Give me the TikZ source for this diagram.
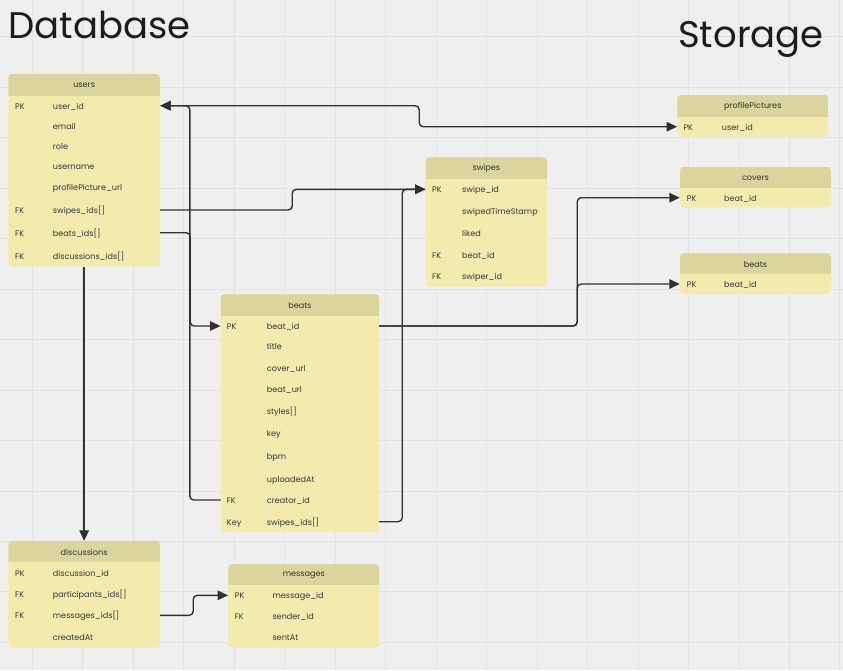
\documentclass[tikz,border=0pt]{standalone}
\usepackage{fontspec}
\setmainfont{Poppins}
\usetikzlibrary{arrows.meta,fit}
\definecolor{bgc}{HTML}{EFEFEF}
\definecolor{gridc}{HTML}{E3E3E3}
\definecolor{bodyc}{HTML}{F1ECAE}
\definecolor{headc}{HTML}{DAD49D}
\definecolor{linec}{HTML}{303030}
\definecolor{txtc}{HTML}{363636}
\definecolor{titc}{HTML}{1C1C1C}
\tikzset{
  tbody/.style={fill=bodyc, rounded corners=4pt, inner sep=0pt},
  htext/.style={inner sep=0pt, yshift=-0.8pt, text=txtc, font=\fontsize{8.1}{10}\selectfont},
  ktext/.style={inner sep=0pt, anchor=mid west, yshift=-0.8pt, text=txtc, font=\fontsize{8.1}{10}\selectfont},
  rowbox/.style={inner sep=0pt},
  conn/.style={draw=linec, line width=1.4pt, rounded corners=4pt, -{Triangle[length=10.5pt,width=9.5pt]}},
  conn2/.style={draw=linec, line width=1.4pt, rounded corners=4pt, {Triangle[length=10.5pt,width=9.5pt]}-{Triangle[length=10.5pt,width=9.5pt]}},
  titletext/.style={inner sep=0pt, anchor=base west, text=titc, font=\fontsize{37}{44}\selectfont},
}
% #1 name, #2 x1, #3 y1, #4 x2, #5 y2, #6 header bottom, #7 title
\newcommand\dbtab[7]{%
  \node[tbody, fit={(#2,#3)(#4,#5)}] (#1) {};
  \begin{scope}
    \clip[rounded corners=4pt] (#2,#3) rectangle (#4,#5);
    \fill[headc] (#2,#3) rectangle (#4,#6);
  \end{scope}
  \node[htext] (#1-h) at ({(#2+#4)/2},{(#3+#6)/2}) {#7};
}
% #1 name, #2 x1, #3 x2, #4 y, #5 key x, #6 field x, #7 key, #8 field
\newcommand\dbrow[8]{%
  \node[rowbox, fit={(#2,#4-9)(#3,#4+9)}] (#1) {};
  \node[ktext] (#1-k) at (#5,#4) {#7};
  \node[ktext] (#1-f) at (#6,#4) {#8};
}
\begin{document}
\begin{tikzpicture}[x=1pt,y=-1pt]
\useasboundingbox (0,0) rectangle (843,670);
\fill[bgc] (0,0) rectangle (843,670);
\foreach \i in {0,...,16} {\draw[gridc, line width=1pt] ({32.3+\i*50.48},0) -- ({32.3+\i*50.48},670);}
\foreach \i in {0,...,12} {\draw[gridc, line width=1pt] (0,{36.7+\i*50.48}) -- (843,{36.7+\i*50.48});}

\node[titletext] (tdb) at (8.5,38.3) {Database};
\node[titletext] (tst) at (678,47.3) {Storage};

% users
\dbtab{users}{8.3}{74}{160}{266.7}{95.7}{users}
\dbrow{u-uid}{8.3}{160}{105.7}{15}{52.7}{PK}{user\_id}
\dbrow{u-email}{8.3}{160}{125.7}{15}{52.7}{}{email}
\dbrow{u-role}{8.3}{160}{146}{15}{52.7}{}{role}
\dbrow{u-uname}{8.3}{160}{166.3}{15}{52.7}{}{username}
\dbrow{u-pp}{8.3}{160}{187.3}{15}{52.7}{}{profilePicture\_url}
\dbrow{u-sw}{8.3}{160}{210}{15}{52.7}{FK}{swipes\_ids[]}
\dbrow{u-bt}{8.3}{160}{232.7}{15}{52.7}{FK}{beats\_ids[]}
\dbrow{u-disc}{8.3}{160}{255.7}{15}{52.7}{FK}{discussions\_ids[]}

% swipes
\dbtab{swipes}{425.7}{157.3}{547}{286.7}{179}{swipes}
\dbrow{sw-pk}{425.7}{547}{189.3}{432}{462}{PK}{swipe\_id}
\dbrow{sw-ts}{425.7}{547}{211}{432}{462}{}{swipedTimeStamp}
\dbrow{sw-liked}{425.7}{547}{232.7}{432}{462}{}{liked}
\dbrow{sw-beat}{425.7}{547}{254.7}{432}{462}{FK}{beat\_id}
\dbrow{sw-swiper}{425.7}{547}{276}{432}{462}{FK}{swiper\_id}

% storage
\dbtab{pp}{677.3}{95}{828.3}{136.7}{116.7}{profilePictures}
\dbrow{pp-pk}{677.3}{828.3}{126.7}{683.3}{721.7}{PK}{user\_id}
\dbtab{cov}{680}{166.7}{831}{207.3}{188.3}{covers}
\dbrow{cov-pk}{680}{831}{197.7}{686.7}{724}{PK}{beat\_id}
\dbtab{sb}{680}{253.3}{831}{294}{274}{beats}
\dbrow{sb-pk}{680}{831}{284}{686.7}{724}{PK}{beat\_id}

% beats
\dbtab{beats}{220.7}{294.3}{379}{532.3}{315.7}{beats}
\dbrow{b-pk}{220.7}{379}{326}{226.7}{266.7}{PK}{beat\_id}
\dbrow{b-title}{220.7}{379}{346.3}{226.7}{266.7}{}{title}
\dbrow{b-cover}{220.7}{379}{367.7}{226.7}{266.7}{}{cover\_url}
\dbrow{b-url}{220.7}{379}{389.3}{226.7}{266.7}{}{beat\_url}
\dbrow{b-styles}{220.7}{379}{411}{226.7}{266.7}{}{styles[]}
\dbrow{b-key}{220.7}{379}{433.3}{226.7}{266.7}{}{key}
\dbrow{b-bpm}{220.7}{379}{456}{226.7}{266.7}{}{bpm}
\dbrow{b-up}{220.7}{379}{478.7}{226.7}{266.7}{}{uploadedAt}
\dbrow{b-cr}{220.7}{379}{500}{226.7}{266.7}{FK}{creator\_id}
\dbrow{b-sw}{220.7}{379}{521.7}{226.7}{266.7}{Key}{swipes\_ids[]}

% discussions
\dbtab{disc}{8.3}{541}{160}{647.7}{562.3}{discussions}
\dbrow{d-pk}{8.3}{160}{572.7}{15}{52.7}{PK}{discussion\_id}
\dbrow{d-part}{8.3}{160}{594}{15}{52.7}{FK}{participants\_ids[]}
\dbrow{d-msg}{8.3}{160}{615.3}{15}{52.7}{FK}{messages\_ids[]}
\dbrow{d-cr}{8.3}{160}{636.7}{15}{52.7}{}{createdAt}

% messages
\dbtab{msg}{228.3}{564}{379.3}{647.7}{585}{messages}
\dbrow{m-pk}{228.3}{379.3}{595.3}{234.7}{272.3}{PK}{message\_id}
\dbrow{m-snd}{228.3}{379.3}{615.7}{234.7}{272.3}{FK}{sender\_id}
\dbrow{m-sent}{228.3}{379.3}{637}{234.7}{272.3}{}{sentAt}

% connectors
\draw[conn2] (u-uid.east) -- ++(259,0) |- (pp-pk.west);
\draw[conn] (u-sw.east) -- ++(132,0) |- (sw-pk.west);
\draw[conn] (b-sw.east) -- ++(23,0) |- (sw-pk.west);
\draw[conn] (users.south) -- (disc.north);
\draw[conn] (b-pk.east) -- ++(198,0) |- (cov-pk.west);
\draw[conn] (b-pk.east) -- ++(198,0) |- (sb-pk.west);
\draw[conn] (u-bt.east) -- ++(30,0) |- (b-pk.west);
\draw[conn] (b-cr.west) -- ++(-30.7,0) |- (u-uid.east);
\draw[conn] (d-msg.east) -- ++(33,0) |- (m-pk.west);
\end{tikzpicture}
\end{document}
